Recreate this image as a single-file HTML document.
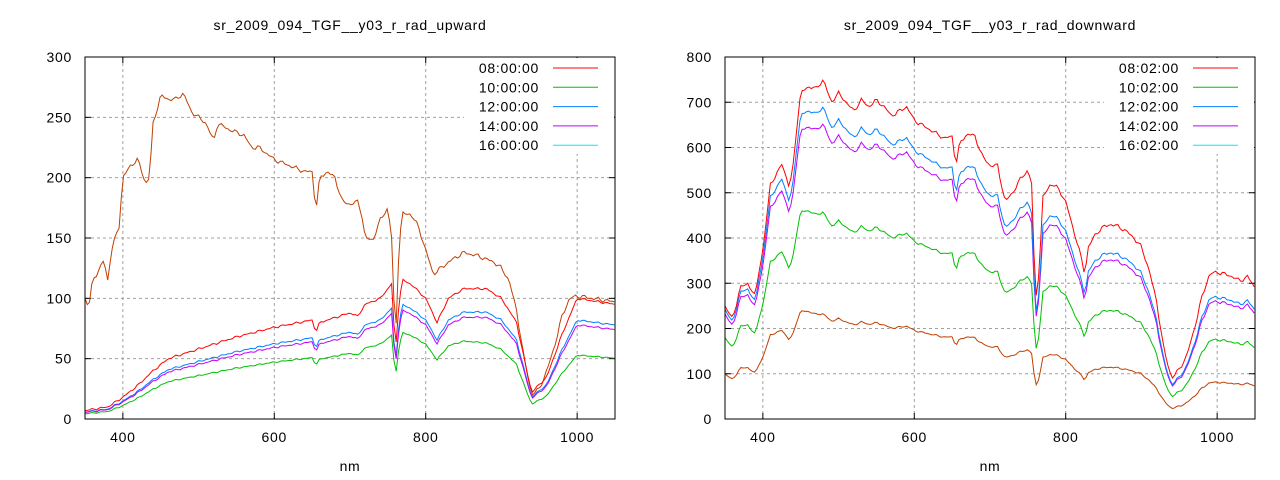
<!DOCTYPE html>
<html><head><meta charset="utf-8"><style>
body{margin:0;background:#fff;}
svg{display:block;font-family:"Liberation Sans",sans-serif;}
</style></head><body>
<svg id="s" width="1280" height="480" xmlns="http://www.w3.org/2000/svg"></svg>
<script>
const S=document.getElementById('s');
let out='';
function interp(pts,x){for(let i=0;i<pts.length-1;i++){if(x<=pts[i+1][0]){const t=(x-pts[i][0])/(pts[i+1][0]-pts[i][0]);return pts[i][1]+t*(pts[i+1][1]-pts[i][1]);}}return pts[pts.length-1][1];}
function noise(x){return Math.sin(x*1.7)*0.5+Math.sin(x*0.63+1)*0.5;}
const FS='font-size="14" letter-spacing="0.7"';
function plot(P){
 const X=v=>P.x0+(v-350)/700*(P.x1-P.x0), Y=v=>P.y1-v/P.ymax*(P.y1-P.y0);
 let g='';
 for(const t of [400,600,800,1000]){const x=X(t);g+=`<line x1="${x}" y1="${P.y0}" x2="${x}" y2="${P.y1}" stroke="#a0a0a0" stroke-dasharray="3,3"/>`;
  g+=`<line x1="${x}" y1="${P.y1}" x2="${x}" y2="${P.y1-6}" stroke="#000"/><line x1="${x}" y1="${P.y0}" x2="${x}" y2="${P.y0+6}" stroke="#000"/>`;
  g+=`<text x="${x}" y="${P.y1+23}" ${FS} text-anchor="middle">${t}</text>`;}
 for(let v=0;v<=P.ymax;v+=P.ystep){const y=Y(v);
  if(v>0&&v<P.ymax)g+=`<line x1="${P.x0}" y1="${y}" x2="${P.x1}" y2="${y}" stroke="#a0a0a0" stroke-dasharray="3,3"/>`;
  g+=`<line x1="${P.x0}" y1="${y}" x2="${P.x0+6}" y2="${y}" stroke="#000"/><line x1="${P.x1}" y1="${y}" x2="${P.x1-6}" y2="${y}" stroke="#000"/>`;
  g+=`<text x="${P.x0-13}" y="${y+5}" ${FS} text-anchor="end">${v}</text>`;}
 g+=`<rect x="${P.lx-75}" y="58" width="${P.x1-P.lx+74}" height="96" fill="#fff"/>`;
 for(const s of P.series){let d='';
  for(let nm=350;nm<=1050;nm+=3){let v=s.f(nm);v+=noise(nm)*s.n;d+=(nm==350?'M':'L')+X(nm).toFixed(1)+','+Y(Math.max(v,0)).toFixed(1);}
  g+=`<path d="${d}" fill="none" stroke="${s.c}" stroke-width="1"/>`;}
 P.leg.forEach((l,i)=>{const y=68+i*19.3;g+=`<text x="${P.lx}" y="${y+5}" ${FS} text-anchor="end">${l[0]}</text><line x1="${P.lx+14}" y1="${y}" x2="${P.lx+59}" y2="${y}" stroke="${l[1]}"/>`;});
 g+=`<rect x="${P.x0}" y="${P.y0}" width="${P.x1-P.x0}" height="${P.y1-P.y0}" fill="none" stroke="#000"/>`;
 g+=`<text x="${(P.x0+P.x1)/2}" y="30" ${FS} text-anchor="middle">${P.title}</text>`;
 g+=`<text x="${(P.x0+P.x1)/2}" y="471" ${FS} text-anchor="middle">nm</text>`;
 out+=g;}
const L_red=[[350,7],[380,10],[400,18],[420,28],[440,40],[460,50],[500,58],[550,68],[600,76],[650,82],[655,72],[660,80],[700,88],[710,85],[720,95],[740,100],[755,112],[760,55],[765,100],[770,115],[780,112],[800,100],[815,80],[830,100],[850,108],[880,108],[900,100],[920,80],[930,50],[940,22],[960,35],[980,70],[1000,100],[1050,95]];
const L_br=[[350,100],[355,92],[360,115],[370,125],[375,132],[380,115],[385,140],[395,160],[400,200],[410,210],[420,215],[430,195],[435,200],[440,245],[450,268],[460,265],[470,265],[480,270],[490,255],[500,250],[510,245],[520,230],[525,245],[540,240],[560,235],[570,225],[580,225],[600,215],[620,210],[640,205],[650,205],[655,172],[660,200],[670,205],[680,200],[690,180],[700,178],[710,180],[715,172],[720,150],[730,148],[740,165],[750,175],[755,150],[760,62],[765,150],[770,170],[780,170],[790,160],[800,140],[810,120],[820,125],[830,130],[850,138],[870,135],[890,130],[900,125],[910,115],[920,90],[930,50],[940,20],[950,25],[960,40],[970,60],[980,85],[990,100],[1000,102],[1050,97]];
const gl=x=>{const t=Math.min(1,Math.max(0,(x-800)/200));return 0.62-0.09*t;};
plot({x0:85,x1:615,y0:57,y1:419,ymax:300,ystep:50,lx:539,title:"sr_2009_094_TGF__y03_r_rad_upward",
 leg:[["08:00:00","#ff0000"],["10:00:00","#00c000"],["12:00:00","#0080ff"],["14:00:00","#c000ff"],["16:00:00","#00eeee"]],
 series:[{c:"#00c000",n:0.6,f:x=>interp(L_red,x)*gl(x)},{c:"#c04000",n:2,f:x=>interp(L_br,x)},{c:"#0080ff",n:0.8,f:x=>interp(L_red,x)*0.82},{c:"#c000ff",n:0.8,f:x=>interp(L_red,x)*0.78},{c:"#ff0000",n:1,f:x=>interp(L_red,x)}]});
const R_red=[[350,250],[360,220],[370,290],[380,300],[390,270],[395,330],[400,370],[410,520],[420,545],[425,565],[430,540],[435,510],[440,560],[445,650],[450,720],[460,735],[470,730],[480,750],[490,700],[500,720],[510,700],[520,680],[530,705],[540,690],[550,705],[560,690],[570,670],[580,680],[590,690],[600,660],[620,640],[640,620],[650,625],[655,560],[660,610],[670,630],[680,625],[690,580],[700,560],[710,560],[720,480],[730,500],[740,530],[750,550],[755,520],[760,260],[765,330],[770,490],[780,520],[790,510],[800,480],[810,420],[820,360],[825,320],[830,380],[840,410],[850,425],[860,430],[870,425],[880,415],[890,400],[900,380],[910,330],[920,260],[930,150],[940,90],[950,110],[960,140],[970,200],[980,270],[990,320],[1000,325],[1010,320],[1020,315],[1030,305],[1040,315],[1050,290]];
const fac=(a0,a,b)=>x=>{let f;if(x<480){const t=(x-350)/130;f=a0+(a-a0)*t;}else{const t=Math.min(1,(x-480)/520);f=a+(b-a)*t;}return f*interp(R_red,x);};
plot({x0:725,x1:1255,y0:57,y1:419,ymax:800,ystep:100,lx:1179,title:"sr_2009_094_TGF__y03_r_rad_downward",
 leg:[["08:02:00","#ff0000"],["10:02:00","#00c000"],["12:02:00","#0080ff"],["14:02:00","#c000ff"],["16:02:00","#00eeee"]],
 series:[{c:"#c04000",n:2,f:fac(0.40,0.31,0.25)},{c:"#00c000",n:3,f:fac(0.72,0.61,0.54)},{c:"#c000ff",n:4,f:fac(0.93,0.87,0.80)},{c:"#0080ff",n:4,f:fac(0.97,0.92,0.83)},{c:"#ff0000",n:5,f:x=>interp(R_red,x)}]});
S.innerHTML=out;
</script>
</body></html>
